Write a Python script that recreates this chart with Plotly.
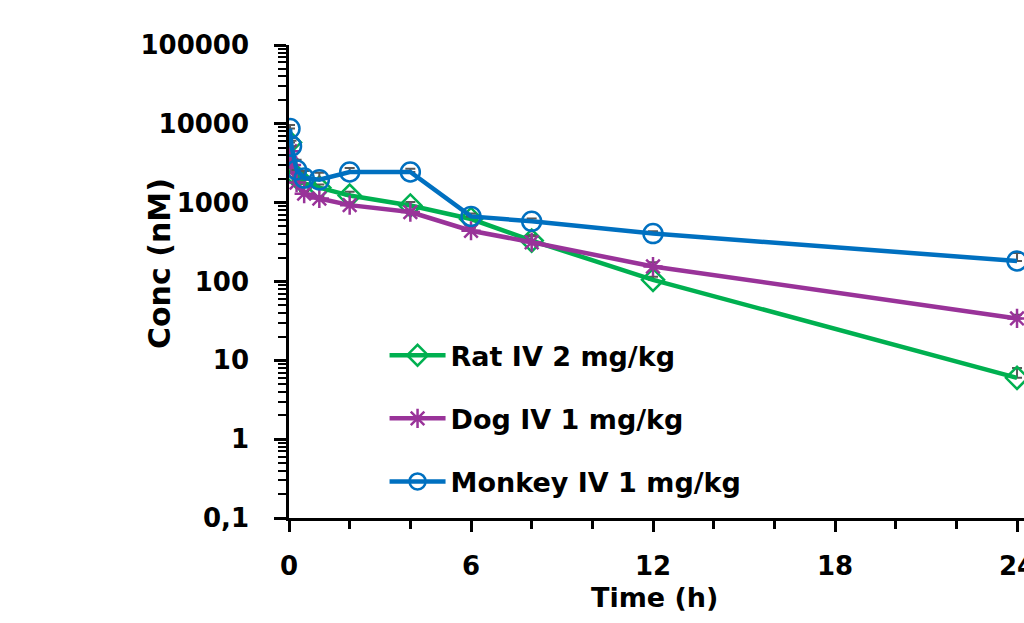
import plotly.graph_objects as go

time_h = [0.033, 0.083, 0.25, 0.5, 1, 2, 4, 6, 8, 12, 24]

rat_conc = [5800, 2500, 2100, 1750, 1550, 1230, 920, 620, 330, 105, 6]
rat_err = [800, 300, 250, 200, 150, 150, 100, 60, 60, 10, 2]

dog_conc = [4500, 3000, 1800, 1300, 1130, 930, 760, 440, 315, 155, 34]
dog_err = [600, 400, 200, 100, 80, 80, 60, 40, 60, 20, 4]

monkey_conc = [8700, 5200, 2600, 2050, 1950, 2450, 2450, 670, 580, 405, 182]
monkey_err = [1000, 900, 900, 470, 450, 300, 250, 60, 50, 30, 48]

series_names = ["Rat IV 2 mg/kg", "Dog IV 1 mg/kg", "Monkey IV 1 mg/kg"]

y_tickvals = [0.1, 1, 10, 100, 1000, 10000, 100000]
y_ticktext = ["0,1", "1", "10", "100", "1000", "10000", "100000"]
x_tickvals = [0, 6, 12, 18, 24]

FONT = "DejaVu Sans"

fig = go.Figure()

specs = [
    (rat_conc, rat_err, "#00B050", "diamond-open", 17),
    (dog_conc, dog_err, "#993399", "asterisk-open", 16),
    (monkey_conc, monkey_err, "#0070C0", "circle-open", 19),
]

for i, (vals, errs, color, sym, size) in enumerate(specs):
    fig.add_trace(go.Scatter(
        x=time_h, y=vals, name=f"<b>{series_names[i]}</b>", mode="lines+markers",
        legendgroup=f"g{i}",
        line=dict(color=color, width=4.5),
        marker=dict(symbol=sym, size=size, color=color,
                    line=dict(color=color, width=2.5)),
        error_y=dict(type="data", symmetric=False, array=errs,
                     arrayminus=[0] * len(errs), color="#595959",
                     thickness=2, width=5),
    ))

fig.update_layout(
    width=1024, height=623,
    margin=dict(l=289, r=0, t=45, b=105),
    paper_bgcolor="white", plot_bgcolor="white",
    font=dict(family=FONT, color="black"),
    showlegend=True,
    legend=dict(x=0.13, y=0.395, xanchor="left", yanchor="top",
                font=dict(family=FONT, size=27, color="black"),
                bgcolor="rgba(0,0,0,0)", traceorder="grouped",
                tracegroupgap=25, itemwidth=56),
    annotations=[
        dict(text="<b>Conc (nM)</b>", xref="paper", yref="paper",
             x=-0.1755, y=0.537, textangle=-90, showarrow=False,
             xanchor="center", yanchor="middle",
             font=dict(family=FONT, size=30, color="black")),
        dict(text="<b>Time (h)</b>", xref="paper", yref="paper",
             x=0.4966, y=-0.169, showarrow=False,
             xanchor="center", yanchor="middle",
             font=dict(family=FONT, size=27, color="black")),
    ],
)

fig.update_xaxes(
    range=[0, 24.23], tickvals=x_tickvals,
    ticktext=[f"<b>{v}</b>" for v in x_tickvals],
    showgrid=False, zeroline=False,
    showline=True, linecolor="black", linewidth=2.5,
    ticks="outside", ticklen=11, tickwidth=2.5, tickcolor="black",
    minor=dict(dtick=2, ticks="outside", ticklen=8, tickwidth=2.5, tickcolor="black"),
    tickfont=dict(family=FONT, size=26, color="black"),
    ticklabelstandoff=12,
    ticklabeloverflow="allow",
    automargin=False,
)
fig.update_yaxes(
    type="log", range=[-1, 5], tickvals=y_tickvals,
    ticktext=[f"<b>{t}</b>" for t in y_ticktext],
    showgrid=False, zeroline=False,
    showline=True, linecolor="black", linewidth=2.5,
    ticks="outside", ticklen=12, tickwidth=2.5, tickcolor="black",
    minor=dict(ticks="outside", ticklen=8, tickwidth=2, tickcolor="black", dtick="D1"),
    tickfont=dict(family=FONT, size=26, color="black"),
    ticklabelstandoff=20,
    automargin=False,
)

fig.write_html(
    "out.html",
    config={"displayModeBar": False},
    post_script="document.body.style.margin='0';document.body.style.overflow='hidden';",
)
